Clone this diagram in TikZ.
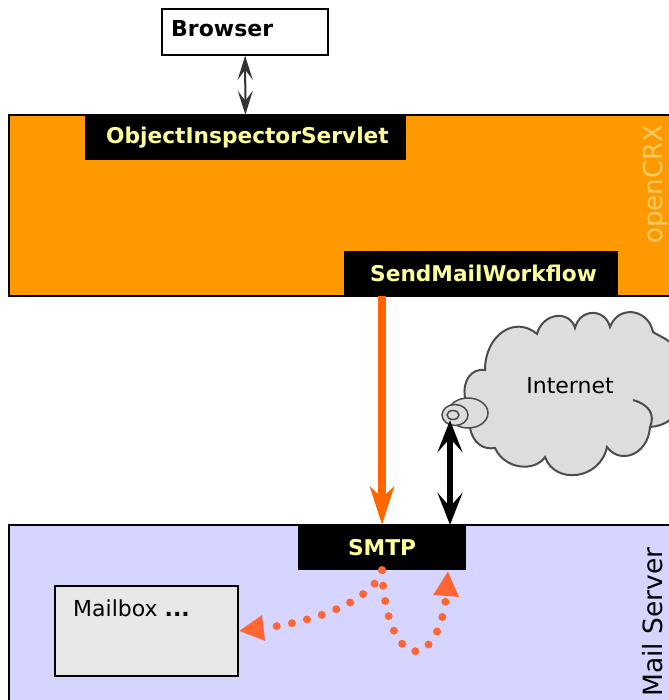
\documentclass[tikz,border=0pt]{standalone}
\usepackage{fontspec}
\setmainfont{DejaVu Sans}
\usetikzlibrary{arrows.meta,shapes.geometric}
\definecolor{crxorange}{HTML}{FF9900}
\definecolor{mailblue}{HTML}{D5D5FF}
\definecolor{flowred}{HTML}{FF6633}
\definecolor{floworange}{HTML}{FF6600}
\definecolor{labelyellow}{HTML}{FFFF99}
\definecolor{sideyellow}{HTML}{FFCC66}
\definecolor{cloudgray}{HTML}{DDDDDD}
\definecolor{boxgray}{HTML}{E8E8E8}
\tikzset{
    area/.style={rectangle, draw, line width=1.5pt, inner sep=0pt},
    blackbox/.style={rectangle, fill=black, inner sep=0pt, text=labelyellow, font=\fontsize{21.7}{24}\selectfont\bfseries},
    plainlabel/.style={inner sep=0pt, anchor=base west, font=\fontsize{22}{26}\selectfont},
    sidelabel/.style={inner sep=0pt, rotate=90},
    port/.style={ellipse, draw=black!70, fill=cloudgray, line width=1.5pt, inner sep=0pt}
}
\begin{document}
\begin{tikzpicture}[x=1pt, y=-1pt]
        \useasboundingbox (0,0) rectangle (668,700);

        % Areas
        \node[area, fill=crxorange, minimum width=663pt, minimum height=181pt] (crx) at (340.5,205.5) {};
        \node[area, fill=mailblue, minimum width=663pt, minimum height=181pt] (mailserver) at (340.5,615.5) {};

        % Boxes
        \node[area, fill=white, minimum width=166pt, minimum height=46pt] (browser) at (245,32) {};
        \node[area, fill=boxgray, minimum width=183pt, minimum height=90pt] (mailbox) at (146.5,631) {};
        \node[blackbox, minimum width=321pt, minimum height=45pt] (servlet) at (245.5,137.5) {\hspace{4pt}ObjectInspectorServlet};
        \node[blackbox, minimum width=274pt, minimum height=45pt] (workflow) at (481,273.5) {\hspace{5pt}SendMailWorkflow};
        \node[blackbox, minimum width=168pt, minimum height=45pt] (smtp) at (382,547.5) {SMTP};
        \coordinate (smtpin) at (448,571);

        % Labels
        \node[plainlabel, font=\fontsize{22}{26}\selectfont\bfseries] (browserlabel) at (171,37) {Browser};
        \node[plainlabel] (mailboxlabel) at (73,616) {Mailbox {\bfseries ...}};
        \node[sidelabel, text=sideyellow, font=\fontsize{26}{30}\selectfont] (crxlabel) at (656,184) {openCRX};
        \node[sidelabel, font=\fontsize{26.5}{30}\selectfont] (maillabel) at (653,622) {Mail Server};

        % Cloud
        \draw[fill=cloudgray, draw=black!70, line width=2pt]
            (485,370) .. controls (485,335) and (515,315) .. (537,334)
            .. controls (543,312) and (570,310) .. (575,328)
            .. controls (580,308) and (605,308) .. (610,327)
            .. controls (618,305) and (648,308) .. (653,332)
            .. controls (665,340) and (690,345) .. (672,378)
            .. controls (690,395) and (680,425) .. (650,427)
            .. controls (648,455) and (620,465) .. (607,447)
            .. controls (600,480) and (555,485) .. (545,457)
            .. controls (535,472) and (505,470) .. (495,448)
            .. controls (483,450) and (473,443) .. (470,428)
            .. controls (462,415) and (460,405) .. (465,398)
            .. controls (462,380) and (472,368) .. (485,370) -- cycle;
        \draw[draw=black!70, line width=2pt] (633,400) .. controls (650,405) and (655,415) .. (650,427);
        \node[inner sep=0pt, font=\fontsize{22}{26}\selectfont] (internet) at (570,386) {Internet};
        \node[port, minimum width=40pt, minimum height=30pt] (portouter) at (468,413) {};
        \node[port, minimum width=26pt, minimum height=21pt] (portmiddle) at (455,415) {};
        \node[port, minimum width=12pt, minimum height=9pt] (port) at (453,415) {};

        % Connections
        \draw[{Stealth[length=24pt, width=15pt, inset=10pt]}-{Stealth[length=24pt, width=15pt, inset=10pt]}, line width=2pt, draw=black!80] (browser) -- (servlet);
        \draw[-{Stealth[length=38pt, width=24pt, inset=11pt]}, line width=8pt, floworange] (workflow.south -| smtp.north) -- (smtp.north);
        \draw[{Stealth[length=32pt, width=25pt, inset=14pt]}-{Stealth[length=32pt, width=25pt, inset=14pt]}, line width=6pt] (port.south -| 450,0) -- (smtp.north -| 450,0);
        \draw[-{Triangle[length=25pt, width=24pt]}, line width=8pt, flowred, line cap=round, dash pattern=on 0pt off 15.5pt]
            (smtp.south) .. controls (376,594) and (330,620) .. (mailbox.east);
        \draw[-{Triangle[length=25pt, width=24pt]}, line width=8pt, flowred, line cap=round, dash pattern=on 0pt off 15.5pt]
            (smtp.south) .. controls (385,640) and (410,660) .. (425,648) .. controls (440,635) and (445,610) .. (smtpin);
    \end{tikzpicture}
\end{document}
